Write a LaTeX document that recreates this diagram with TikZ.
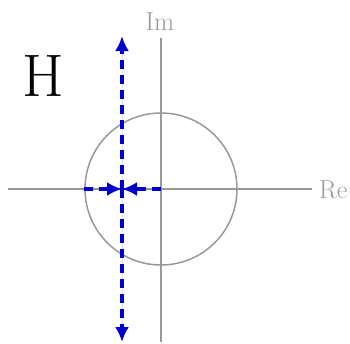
\documentclass[tikz,border=0pt]{standalone}
\usepackage{fontspec}
\usepackage{tikz}
\usetikzlibrary{arrows.meta,positioning}
\definecolor{axisgray}{RGB}{153,153,153}
\definecolor{pathblue}{RGB}{0,0,204}

\begin{document}
\begin{tikzpicture}[
    x=1pt,y=-1pt,
    axis/.style={draw=axisgray,line width=1.5pt},
    axislabel/.style={text=axisgray,font=\fontsize{26}{28}\selectfont,inner sep=0pt},
    flow/.style={-{Latex[length=15pt,width=14pt]},draw=pathblue,fill=pathblue,
      line width=3.5pt,dash pattern=on 9pt off 6pt}
  ]
    \useasboundingbox (0,0) rectangle (350,343);
    % axes and unit circle
    \coordinate (O) at (161,189);
    \coordinate (reL) at (8,189);
    \coordinate (reR) at (312,189);
    \coordinate (imT) at (161,38);
    \coordinate (imB) at (161,342);
    \draw[axis] (reL) -- (reR);
    \draw[axis] (imT) -- (imB);
    \draw[axis] (O) circle (76);
    \node[axislabel,anchor=base west] (re) at (319,198) {Re};
    \node[axislabel,anchor=base] (im) at (160,30) {Im};
    \node[font=\fontsize{60}{62}\selectfont,inner sep=0pt,anchor=base west] (title) at (22,96) {H};
    % paths
    \coordinate (P) at (122,189);
    \coordinate (pT) at (122,36);
    \coordinate (pB) at (122,342);
    \coordinate (cL) at (84,189);
    \draw[flow] (P) -- (pT);
    \draw[flow] (P) -- (pB);
    \draw[flow] (cL) -- (P);
    \draw[flow] (O) -- (P);
  \end{tikzpicture}
\end{document}
